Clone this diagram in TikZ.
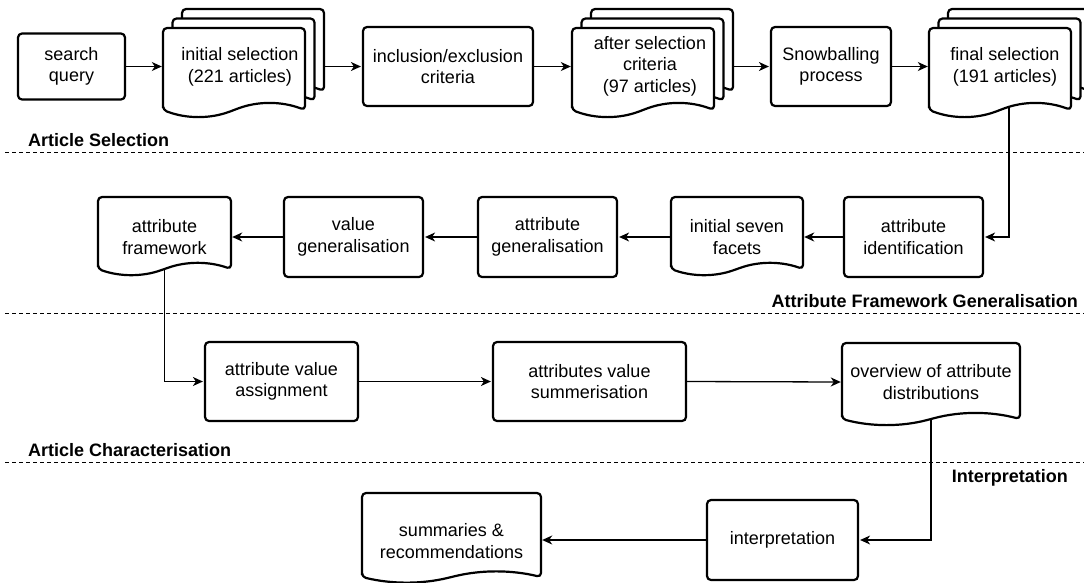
\documentclass[tikz,border=0pt]{standalone}
\usepackage{fontspec}
\setmainfont{Liberation Sans}
\usetikzlibrary{arrows.meta}
\pgfdeclarelayer{background}
\pgfsetlayers{background,main}
\newcommand\txtfont{\fontsize{18pt}{21.6pt}\selectfont}
\newcommand\lblfont{\fontsize{18pt}{21.6pt}\selectfont\bfseries}
\tikzset{
 box/.style={draw, line width=2.2pt, rounded corners=4pt, fill=white, align=center, inner sep=0pt, font=\txtfont},
 doctext/.style={align=center, inner sep=0pt, font=\txtfont},
 docarea/.style={inner sep=0pt, draw=none},
 pageline/.style={draw, line width=2.2pt, fill=white, rounded corners=4pt, line join=round},
 conn/.style={line width=1.3pt, shorten >=1pt, -{Stealth[length=10pt,width=9pt,inset=3pt]}},
 sepline/.style={line width=1pt, dash pattern=on 4pt off 3pt},
 lbl/.style={inner sep=0pt, font=\lblfont},
}
% #1 x, #2 y (top-left), #3 width, #4 edge height, #5 wave size
\newcommand\docpg[5]{%
  \filldraw[pageline] (#1,#2+#4) -- (#1,#2) -- (#1+#3,#2) -- (#1+#3,#2+#4)
    .. controls (#1+0.8333*#3,#2+#4-0.6*#5) and (#1+0.6667*#3,#2+#4-0.6*#5) .. (#1+0.5*#3,#2+#4)
    .. controls (#1+0.3333*#3,#2+#4+0.6*#5) and (#1+0.1667*#3,#2+#4+0.6*#5) .. cycle;}
\begin{document}
\begin{tikzpicture}[x=1pt,y=-1pt]
\useasboundingbox (0,0) rectangle (1084,582);

% ---- Row 1: Article Selection
\node[box, minimum width=107pt, minimum height=66pt] (sq) at (71.5,66.5) {search\\query};

\docpg{182}{9}{142}{82}{15}
\docpg{172.5}{18.5}{142}{82}{15}
\docpg{163}{28}{142}{82}{15}
\node[docarea, minimum width=160pt, minimum height=108pt] (init) at (243,66.5) {};
\node[doctext] (initt) at (240,67) {initial selection\\(221 articles)};

\node[box, minimum width=170pt, minimum height=79pt] (incl) at (448,66.5) {inclusion/exclusion\\criteria};

\docpg{591}{9}{142}{82}{15}
\docpg{581.5}{18.5}{142}{82}{15}
\docpg{572}{28}{142}{82}{15}
\node[docarea, minimum width=160pt, minimum height=108pt] (after) at (652,66.5) {};
\node[doctext] (aftert) at (650,66) {after selection\\criteria\\(97 articles)};

\node[box, minimum width=120pt, minimum height=79pt] (snow) at (831,66.5) {Snowballing\\process};

\docpg{948}{9}{142}{82}{15}
\docpg{938.5}{18.5}{142}{82}{15}
\docpg{929}{28}{142}{82}{15}
\node[docarea, minimum width=160pt, minimum height=108pt] (final) at (1009,66.5) {};
\node[doctext] (finalt) at (1005,67) {final selection\\(191 articles)};

\node[lbl, anchor=base west] (l1) at (28,146) {Article Selection};
\draw[sepline] (5,152.5) -- (1084,152.5);

% ---- Row 2: Attribute Framework Generalisation
\node[box, minimum width=139pt, minimum height=80pt] (attrid) at (913.5,237) {attribute\\identification};
\docpg{671}{197}{132}{72}{13}
\node[docarea, minimum width=132pt, minimum height=80pt] (facets) at (737,237) {};
\node[doctext] (facetst) at (737,237) {initial seven\\facets};
\node[box, minimum width=139pt, minimum height=80pt] (ag) at (547.5,237) {attribute\\generalisation};
\node[box, minimum width=139pt, minimum height=80pt] (vg) at (353.5,237) {value\\generalisation};
\docpg{98}{197}{133}{72}{13}
\node[docarea, minimum width=133pt, minimum height=80pt] (fw) at (164.5,237) {};
\node[doctext] (fwt) at (164.5,237) {attribute\\framework};

\node[lbl, anchor=base east] (l2) at (1078,307) {Attribute Framework Generalisation};
\draw[sepline] (5,313) -- (1084,313);

% ---- Row 3: Article Characterisation
\node[box, minimum width=153pt, minimum height=79pt] (ava) at (281.5,381.5) {attribute value\\assignment};
\node[box, minimum width=193pt, minimum height=79pt] (avs) at (589.5,381.5) {attributes value\\summerisation};
\docpg{842}{343}{178}{76}{13}
\node[docarea, minimum width=178pt, minimum height=78pt] (ov) at (931,382) {};
\node[doctext] (ovt) at (931,382) {overview of attribute\\distributions};

\node[lbl, anchor=base west] (l3) at (28,456) {Article Characterisation};
\draw[sepline] (5,462) -- (1084,462);
\node[lbl, anchor=base east] (l4) at (1068,482) {Interpretation};

% ---- Row 4: Interpretation
\node[box, minimum width=151pt, minimum height=80pt] (interp) at (782.5,540) {interpretation};
\docpg{362}{493}{179}{84}{12}
\node[docarea, minimum width=179pt, minimum height=94pt] (sum) at (451.5,540) {};
\node[doctext] (sumt) at (451.5,541) {summaries \&\\recommendations};

% ---- Connectors
\begin{pgfonlayer}{background}
\fill[white] (0,0) rectangle (1084,582);
\draw[conn] (sq.east) -- (init.west);
\draw[conn] (init.east) -- (incl.west);
\draw[conn] (incl.east) -- (after.west);
\draw[conn] (after.east) -- (snow.west);
\draw[conn] (snow.east) -- (final.west);
\draw[conn] (final.center) |- (attrid.east);
\draw[conn] (attrid.west) -- (facets.east);
\draw[conn] (facets.west) -- (ag.east);
\draw[conn] (ag.west) -- (vg.east);
\draw[conn] (vg.west) -- (fw.east);
\draw[conn] (fw.center) |- (ava.west);
\draw[conn] (ava.east) -- (avs.west);
\draw[conn] (avs.east) -- (ov.west);
\draw[conn] (ov.center) |- (interp.east);
\draw[conn] (interp.west) -- (sum.east);
\end{pgfonlayer}
\end{tikzpicture}
\end{document}
